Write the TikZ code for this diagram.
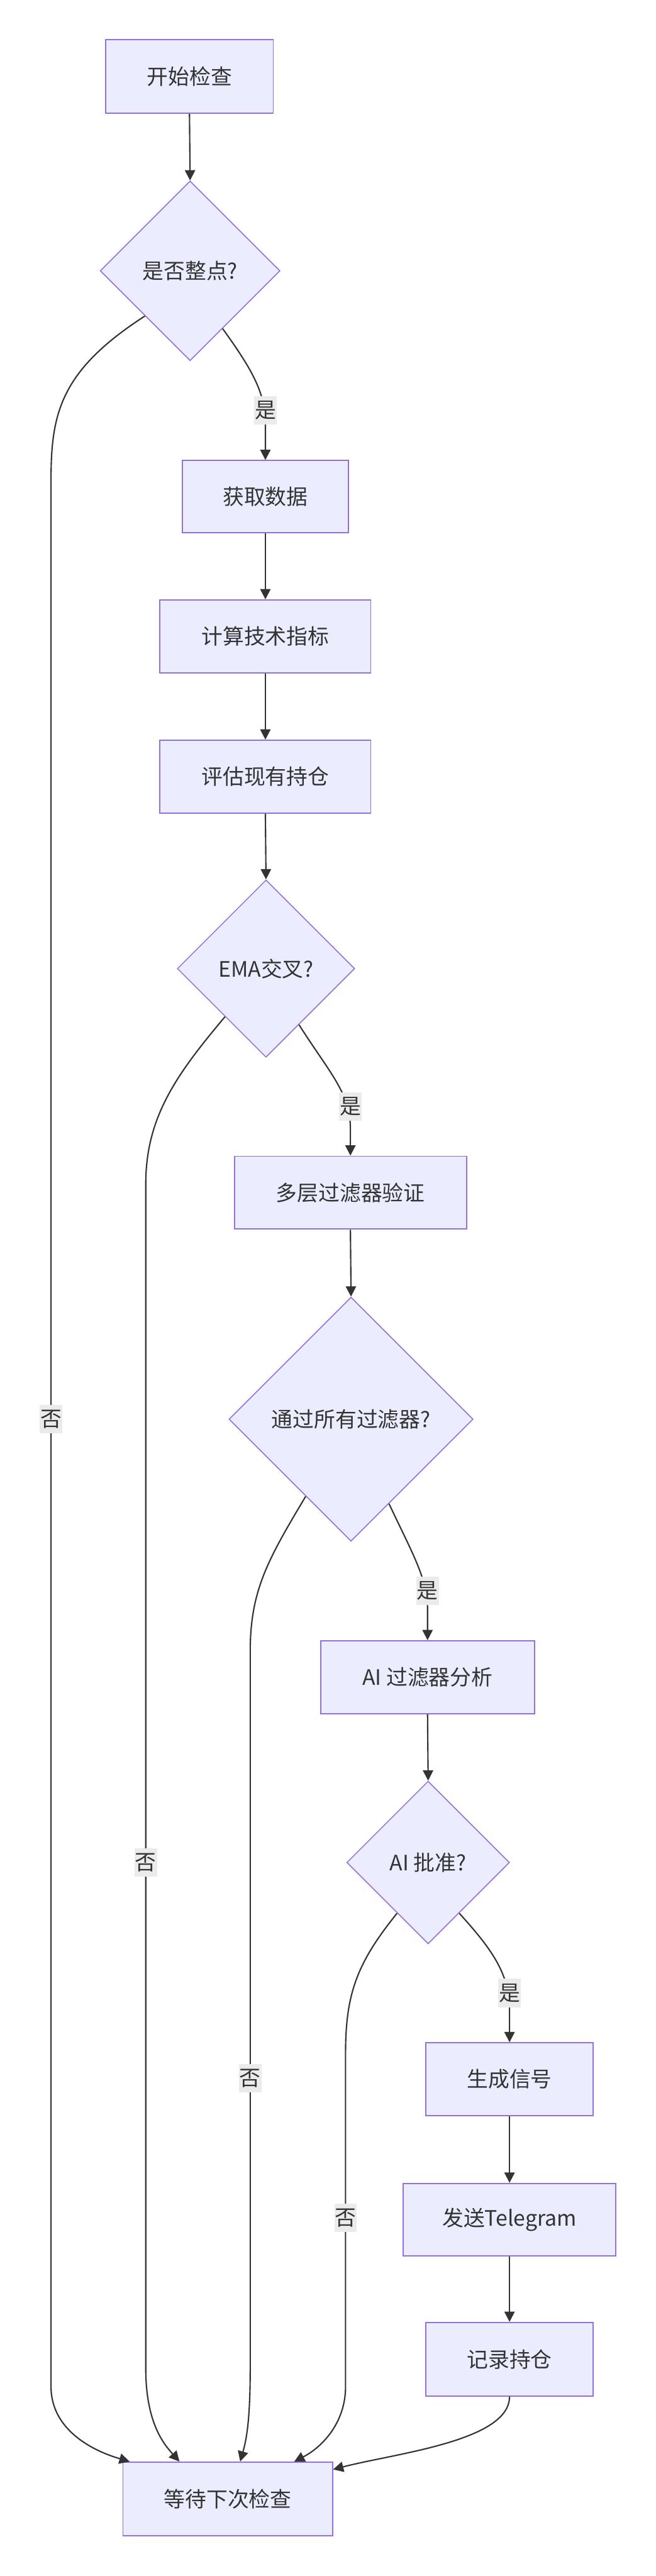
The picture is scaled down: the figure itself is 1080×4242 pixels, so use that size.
\documentclass[tikz,border=0pt]{standalone}
\usepackage{fontspec}
\setmainfont{Noto Sans CJK SC}
\usetikzlibrary{shapes.geometric,arrows.meta,calc}
\definecolor{nodefill}{HTML}{ECECFF}
\definecolor{nodedraw}{HTML}{9370DB}
\definecolor{edgecol}{HTML}{333333}
\definecolor{lblbg}{HTML}{EBEBEB}
\definecolor{txt}{HTML}{333333}
\begin{document}
\begin{tikzpicture}[x=1pt,y=-1pt,
  box/.style={draw=nodedraw, fill=nodefill, line width=2pt, rectangle, inner sep=0pt, text=txt, font=\fontsize{35}{42}\selectfont},
  dec/.style={draw=nodedraw, fill=nodefill, line width=1.6pt, diamond, aspect=1, inner sep=0pt, text=txt, font=\fontsize{35}{42}\selectfont},
  edge/.style={draw=edgecol, line width=2.2pt, -{Triangle[length=17pt,width=17pt]}},
  plain/.style={draw=edgecol, line width=2.2pt},
  lbl/.style={fill=lblbg, text=txt, inner xsep=1pt, inner ysep=8pt, font=\fontsize{35}{42}\selectfont}
]
\useasboundingbox[fill=white] (0,0) rectangle (1080,4242);

% nodes
\node[box, minimum width=276pt, minimum height=121pt] (A) at (312,126) {开始检查};
\node[dec, minimum width=296pt, minimum height=296pt] (B) at (313,446) {是否整点?};
\node[box, minimum width=274pt, minimum height=119pt] (C) at (437,818) {获取数据};
\node[box, minimum width=347pt, minimum height=120pt] (D) at (437,1048) {计算技术指标};
\node[box, minimum width=347pt, minimum height=120pt] (E) at (437,1279) {评估现有持仓};
\node[dec, minimum width=292pt, minimum height=292pt] (F) at (438,1595) {EMA交叉?};
\node[box, minimum width=382pt, minimum height=120pt] (G) at (577,1964) {多层过滤器验证};
\node[dec, minimum width=402pt, minimum height=402pt] (H) at (578,2337) {通过所有过滤器?};
\node[box, minimum width=352pt, minimum height=120pt] (I) at (704,2762) {AI 过滤器分析};
\node[dec, minimum width=268pt, minimum height=268pt] (J) at (705,3067) {AI 批准?};
\node[box, minimum width=276pt, minimum height=120pt] (K) at (839,3424) {生成信号};
\node[box, minimum width=350pt, minimum height=119pt] (L) at (839,3655) {发送Telegram};
\node[box, minimum width=276pt, minimum height=121pt] (M) at (839,3885) {记录持仓};
\node[box, minimum width=345pt, minimum height=121pt] (N) at (375,4115) {等待下次检查};

% straight edges
\draw[edge] (A.south) -- (B.north);
\draw[edge] (C.south) -- (D.north);
\draw[edge] (D.south) -- (E.north);
\draw[edge] (E.south) -- (F.north);
\draw[edge] (G.south) -- (H.north);
\draw[edge] (I.south) -- (J.north);
\draw[edge] (K.south) -- (L.north);
\draw[edge] (L.south) -- (M.north);

% yes edges
\draw[edge] ($(B.south)!0.36!(B.east)$) .. controls (420,615) and (437,650) .. (437,700) -- (C.north);
\draw[edge] ($(F.south)!0.37!(F.east)$) .. controls (545,1770) and (577,1800) .. (577,1860) -- (G.north);
\draw[edge] ($(H.south)!0.31!(H.east)$) .. controls (680,2560) and (704,2600) .. (704,2650) -- (I.north);
\draw[edge] ($(J.south)!0.38!(J.east)$) .. controls (810,3210) and (839,3250) .. (839,3310) -- (K.north);

% no edges
\draw[edge] ($(B.south)!0.5!(B.west)$) .. controls (100,610) and (84,680) .. (84,790) -- (84,3930) .. controls (84,4000) and (150,4035) .. ($(N.north west)+(12,0)$);
\draw[edge] ($(F.south)!0.46!(F.west)$) .. controls (290,1770) and (240,1840) .. (240,1950) -- (240,3900) .. controls (240,3990) and (270,4025) .. ($(N.north west)+(94,0)$);
\draw[edge] ($(H.south)!0.37!(H.west)$) .. controls (440,2570) and (412,2620) .. (412,2720) -- (412,3900) .. controls (412,3990) and (405,4020) .. ($(N.north west)+(194,0)$);
\draw[edge] ($(J.south)!0.38!(J.west)$) .. controls (590,3230) and (569,3280) .. (569,3380) -- (569,3930) .. controls (569,3990) and (530,4030) .. ($(N.north west)+(283,0)$);
\draw[edge] (M.south) .. controls (839,4020) and (650,4040) .. ($(N.north east)+(0,13)$);

% labels
\node[lbl] (y1) at (437,676) {是};
\node[lbl] (y2) at (577,1822) {是};
\node[lbl] (y3) at (704,2620) {是};
\node[lbl] (y4) at (839,3282) {是};
\node[lbl] (n1) at (84,2337) {否};
\node[lbl] (n2) at (240,3067) {否};
\node[lbl] (n3) at (412,3422) {否};
\node[lbl] (n4) at (569,3652) {否};
\end{tikzpicture}
\end{document}
